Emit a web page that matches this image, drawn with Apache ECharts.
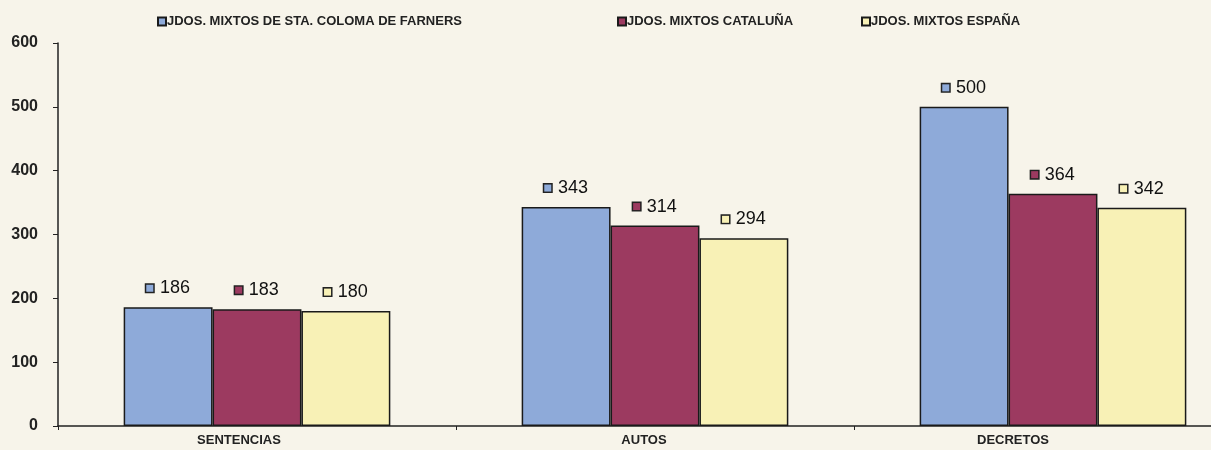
<!DOCTYPE html>
<html>
<head>
<meta charset="utf-8">
<script src="https://cdn.jsdelivr.net/npm/echarts@6/dist/echarts.min.js"></script>
<style>
  html, body { margin: 0; padding: 0; background: #f7f4ea; }
  #chart { width: 1211px; height: 450px; }
</style>
</head>
<body>
<div id="chart"></div>
<script>
// categorias y series
var categories = ["SENTENCIAS", "AUTOS", "DECRETOS"];
var seriesNames = ["JDOS. MIXTOS DE STA. COLOMA DE FARNERS", "JDOS. MIXTOS CATALUÑA", "JDOS. MIXTOS ESPAÑA"];
var colomaValues = [186, 343, 500];
var catalunaValues = [183, 314, 364];
var espanaValues = [180, 294, 342];
var yTicks = [0, 100, 200, 300, 400, 500, 600];

var colors = ["#8eaad9", "#9c3a60", "#f8f1b6"];
var font = "'Liberation Sans Narrow', 'Liberation Sans', Arial, sans-serif";
// en el original las etiquetas del eje x no estan centradas en el grupo
var labelShift = [36, 22, 80];

function makeSeries(name, data, color) {
  return {
    name: name,
    type: "bar",
    data: data,
    barGap: "0%",
    barCategoryGap: "33%",
    itemStyle: { color: color, borderColor: "#1a1a1a", borderWidth: 1.5 },
    label: {
      show: true,
      position: "top",
      distance: 10,
      formatter: "{sq|}  {v|{c}}",
      rich: {
        sq: { width: 7, height: 7, backgroundColor: color, borderColor: "#222", borderWidth: 1.5 },
        v: { fontFamily: font, fontSize: 18, color: "#111" }
      }
    }
  };
}

function makeLegend(name, left) {
  return {
    data: [name],
    top: 10,
    left: left,
    itemWidth: 8,
    itemHeight: 8,
    itemGap: 0,
    icon: "rect",
    textStyle: { fontFamily: font, fontWeight: "bold", fontSize: 13, color: "#222", padding: [0, 0, 0, -4] }
  };
}

var chart = echarts.init(document.getElementById("chart"));
chart.setOption({
  backgroundColor: "#f7f4ea",
  animation: false,
  legend: [
    makeLegend(seriesNames[0], 152),
    makeLegend(seriesNames[1], 612),
    makeLegend(seriesNames[2], 856)
  ],
  // el grafico original esta recortado por la derecha
  grid: { left: 58, top: 43, bottom: 24, right: -41, outerBoundsMode: "none", containLabel: false },
  xAxis: {
    type: "category",
    data: categories.map(function (c, i) {
      return { value: c, textStyle: { padding: [0, labelShift[i], 0, 0] } };
    }),
    axisLine: { lineStyle: { color: "#222", width: 1.5 } },
    axisTick: { show: true, length: 4, lineStyle: { color: "#222" } },
    axisLabel: { fontFamily: font, fontWeight: "bold", fontSize: 13, color: "#222", margin: 8 }
  },
  yAxis: {
    type: "value",
    min: yTicks[0],
    max: yTicks[yTicks.length - 1],
    interval: 100,
    axisLine: { show: true, lineStyle: { color: "#222", width: 1.5 } },
    axisTick: { show: true, length: 5, lineStyle: { color: "#222" } },
    splitLine: { show: false },
    axisLabel: { fontFamily: font, fontWeight: "bold", fontSize: 16, color: "#222", margin: 20 }
  },
  series: [
    makeSeries(seriesNames[0], colomaValues, colors[0]),
    makeSeries(seriesNames[1], catalunaValues, colors[1]),
    makeSeries(seriesNames[2], espanaValues, colors[2])
  ]
});
</script>
</body>
</html>
